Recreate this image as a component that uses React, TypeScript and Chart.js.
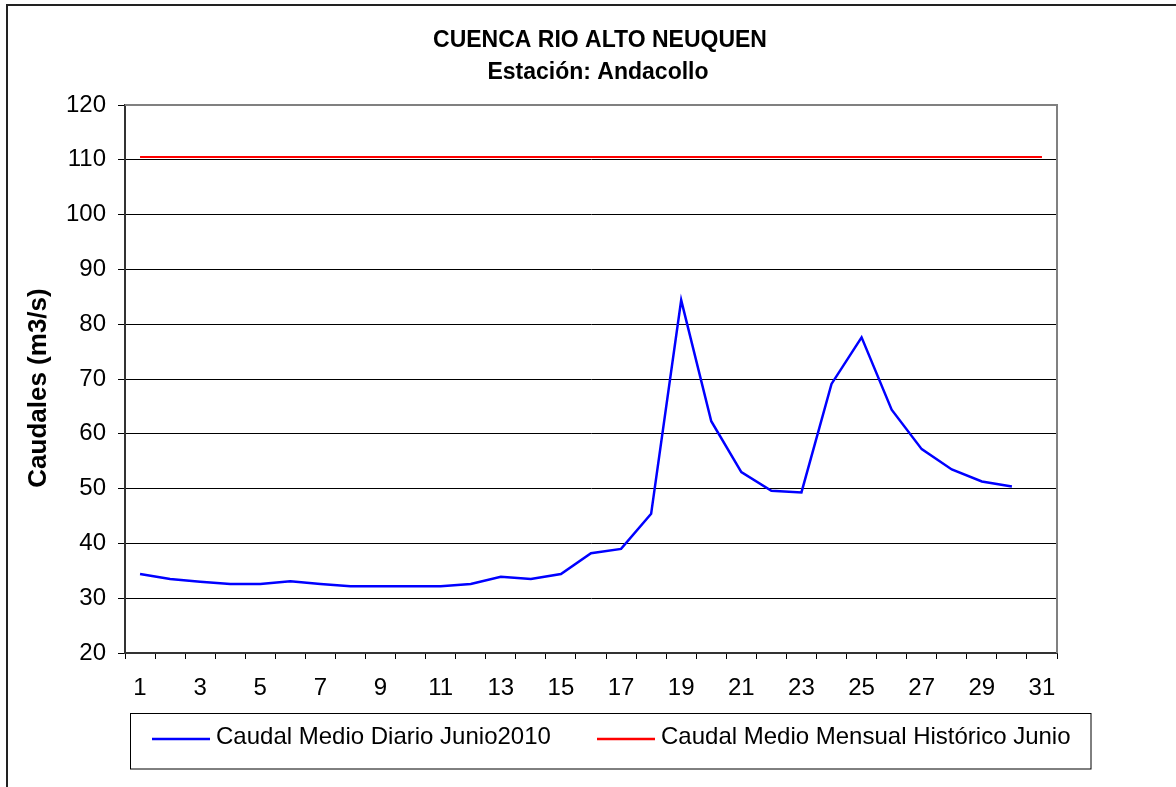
import { useEffect, useRef } from 'react';
import { Chart, registerables } from 'chart.js';

Chart.register(...registerables);

const days = ['1', '2', '3', '4', '5', '6', '7', '8', '9', '10', '11', '12', '13', '14', '15', '16', '17', '18', '19', '20', '21', '22', '23', '24', '25', '26', '27', '28', '29', '30', '31'];

const dailyFlow: (number | null)[] = [34.4, 33.5, 33.0, 32.6, 32.6, 33.1, 32.6, 32.2, 32.2, 32.2, 32.2, 32.6, 33.9, 33.5, 34.4, 38.2, 39.0, 45.4, 84.4, 62.3, 53.0, 49.6, 49.3, 69.1, 77.6, 64.4, 57.2, 53.5, 51.3, 50.4, null];

const historicMean = [110.5, 110.5, 110.5, 110.5, 110.5, 110.5, 110.5, 110.5, 110.5, 110.5, 110.5, 110.5, 110.5, 110.5, 110.5, 110.5, 110.5, 110.5, 110.5, 110.5, 110.5, 110.5, 110.5, 110.5, 110.5, 110.5, 110.5, 110.5, 110.5, 110.5, 110.5];

const yMin = 20;
const yMax = 120;
const yStep = 10;

const titleLines = ['CUENCA RIO ALTO NEUQUEN', 'Estación: Andacollo'];
const yAxisTitle = 'Caudales (m3/s)';
const seriesLabels = ['Caudal Medio Diario Junio2010', 'Caudal Medio Mensual Histórico Junio'];
const seriesColors = ['#0000FF', '#FF0000'];

const FONT = '"Liberation Sans", Arial, sans-serif';

const decorPlugin = {
  id: 'decor',
  beforeDraw(chart: any) {
    const { ctx, width, height } = chart;
    ctx.save();
    ctx.fillStyle = '#ffffff';
    ctx.fillRect(0, 0, width, height);
    ctx.strokeStyle = '#222222';
    ctx.lineWidth = 2;
    ctx.strokeRect(7, 5, width + 50, height + 50);
    ctx.restore();
  },
  afterDraw(chart: any) {
    const { ctx, chartArea } = chart;
    ctx.save();
    // plot area border (top & right)
    ctx.strokeStyle = '#808080';
    ctx.lineWidth = 2;
    ctx.beginPath();
    ctx.moveTo(chartArea.left, chartArea.top);
    ctx.lineTo(chartArea.right, chartArea.top);
    ctx.lineTo(chartArea.right, chartArea.bottom);
    ctx.stroke();

    // title
    ctx.fillStyle = '#000000';
    ctx.textAlign = 'center';
    ctx.textBaseline = 'middle';
    ctx.font = `bold 23px ${FONT}`;
    ctx.fillText(titleLines[0], 600, 41);
    ctx.fillText(titleLines[1], 598, 73);

    // y axis title
    ctx.save();
    ctx.translate(39, 388);
    ctx.rotate(-Math.PI / 2);
    ctx.font = `bold 26px ${FONT}`;
    ctx.fillText(yAxisTitle, 0, 0);
    ctx.restore();

    // legend
    ctx.strokeStyle = '#000000';
    ctx.lineWidth = 1;
    ctx.strokeRect(130.5, 713.5, 960.5, 55.5);
    const items = [
      { x0: 152, x1: 210, tx: 216 },
      { x0: 597, x1: 655, tx: 661 },
    ];
    ctx.font = `24px ${FONT}`;
    ctx.textAlign = 'left';
    items.forEach((it, i) => {
      const ds = chart.data.datasets[i];
      ctx.strokeStyle = ds.borderColor;
      ctx.lineWidth = 2.5;
      ctx.beginPath();
      ctx.moveTo(it.x0, 739);
      ctx.lineTo(it.x1, 739);
      ctx.stroke();
      ctx.fillStyle = '#000000';
      ctx.fillText(ds.label, it.tx, 737);
    });
    ctx.restore();
  },
};

export default function App() {
  const canvasRef = useRef<HTMLCanvasElement | null>(null);

  useEffect(() => {
    if (!canvasRef.current) return;
    const chart = new Chart(canvasRef.current, {
      type: 'line',
      data: {
        labels: days,
        datasets: [
          {
            label: seriesLabels[0],
            data: dailyFlow,
            borderColor: seriesColors[0],
            backgroundColor: seriesColors[0],
            borderWidth: 2.5,
            pointRadius: 0,
            tension: 0,
            spanGaps: false,
          },
          {
            label: seriesLabels[1],
            data: historicMean,
            borderColor: seriesColors[1],
            backgroundColor: seriesColors[1],
            borderWidth: 2,
            pointRadius: 0,
            tension: 0,
          },
        ],
      },
      options: {
        responsive: false,
        animation: false,
        events: [],
        layout: { padding: { top: 105, left: 0, right: 119, bottom: 64 } },
        plugins: {
          legend: { display: false },
          title: { display: false },
          tooltip: { enabled: false },
        },
        scales: {
          x: {
            type: 'category',
            offset: true,
            grid: {
              offset: true,
              drawOnChartArea: false,
              drawTicks: true,
              tickLength: 6,
              color: '#000000',
              lineWidth: 1,
            },
            border: { display: true, color: '#333333', width: 2 },
            ticks: {
              autoSkip: false,
              maxRotation: 0,
              minRotation: 0,
              padding: 15,
              color: '#000000',
              font: { family: FONT, size: 24 },
              callback: (_v: any, idx: number) => (idx % 2 === 0 ? days[idx] : ''),
            },
            afterFit: (scale: any) => {
              scale.height = 70;
            },
          },
          y: {
            min: yMin,
            max: yMax,
            grid: {
              color: '#000000',
              lineWidth: 1,
              tickLength: 7,
              drawTicks: true,
            },
            border: { display: true, color: '#333333', width: 2 },
            ticks: {
              stepSize: yStep,
              padding: 12,
              color: '#000000',
              font: { family: FONT, size: 24 },
            },
            afterFit: (scale: any) => {
              scale.width = 125;
            },
          },
        },
      },
      plugins: [decorPlugin],
    });
    return () => chart.destroy();
  }, []);

  return (
    <div style={{ position: 'fixed', left: 0, top: 0, width: 1176, height: 787, background: '#fff' }}>
      <canvas ref={canvasRef} width={1176} height={787} style={{ display: 'block' }} />
    </div>
  );
}
